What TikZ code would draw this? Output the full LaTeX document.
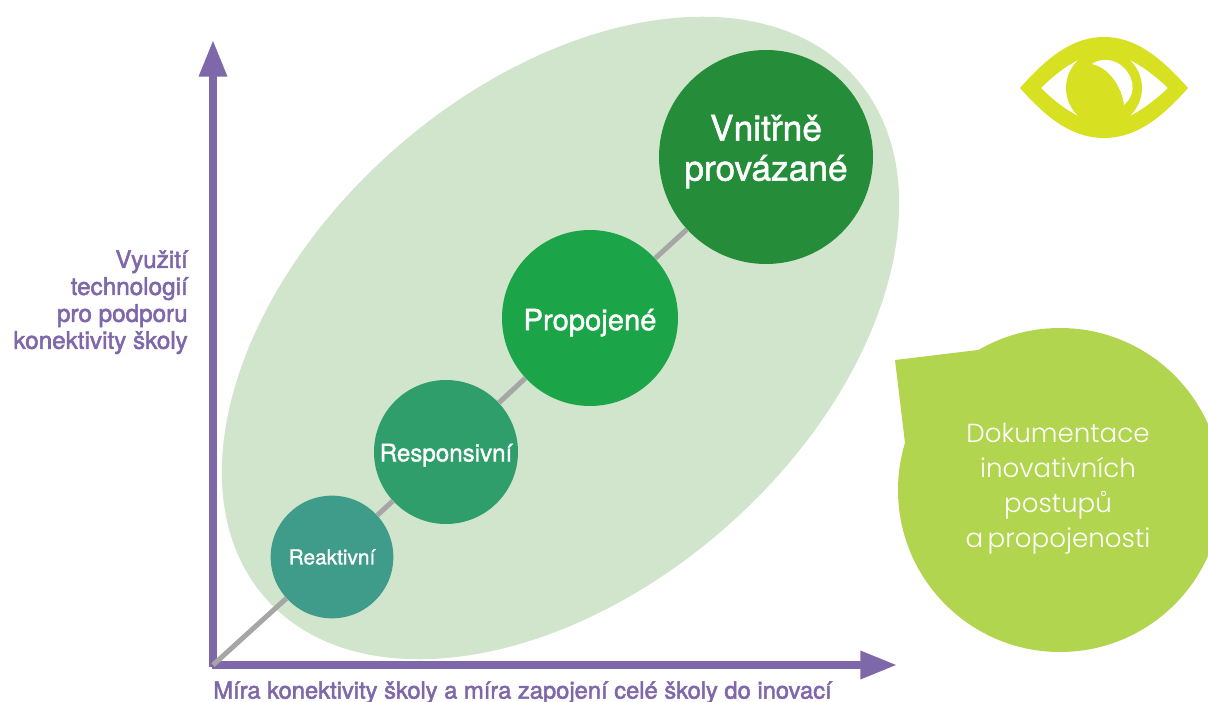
\documentclass[tikz,border=0pt]{standalone}
\usepackage{fontspec}
\usepackage{tikz}
\usetikzlibrary{
        arrows.meta,
        positioning,
        shapes.geometric
    }
\newfontfamily\labelfont[FakeBold=1.4]{TeX Gyre Heros}
\newfontfamily\axisfont[FakeBold=2.2]{TeX Gyre Heros}
\newfontfamily\callfont[UprightFont=* Light]{Poppins}
\definecolor{axiscol}{HTML}{7F68A9}
\definecolor{linecol}{HTML}{A6A6A6}
\definecolor{fieldcol}{HTML}{D0E5CB}
\definecolor{callcol}{HTML}{B2D54F}
\definecolor{eyecol}{HTML}{D7E021}
\definecolor{levelA}{HTML}{3F9B8A}
\definecolor{levelB}{HTML}{2F9E6A}
\definecolor{levelC}{HTML}{1BA548}
\definecolor{levelD}{HTML}{258D3A}
\tikzset{level/.style={circle,inner sep=0pt,align=center,text=white}}
\tikzset{axis/.style={draw=axiscol,line width=5.6pt,-{Triangle[width=20pt,length=27.5pt]}}}
\tikzset{axistext/.style={text=axiscol,inner sep=0pt}}

\begin{document}
\begin{tikzpicture}[x=0.75pt,y=-0.75pt]
                \useasboundingbox (0,0) rectangle (1208,702);
                \node[ellipse,fill=fieldcol,inner sep=0pt,minimum width=590pt,minimum height=377pt,rotate=41.4] (field) at (560.5,338) {};
                \coordinate (origin) at (213,665);
                \coordinate (ytip) at (213,40);
                \coordinate (xtip) at (897,665);
                \coordinate (ystart) at (213,667);
                \coordinate (xstart) at (212,665);
                \node[level,fill=levelD,minimum size=160.5pt,font=\labelfont\fontsize{26.5}{30}\selectfont] (vnitrne) at (766,157) {Vnitřně\\provázané\rule[-14pt]{0pt}{0pt}};
                \node[level,fill=levelC,minimum size=132pt,font=\labelfont\fontsize{21.9}{24}\selectfont] (propojene) at (590,318) {\rule{0pt}{23pt}Propojené};
                \node[level,fill=levelB,minimum size=108pt,font=\labelfont\fontsize{18.1}{20}\selectfont] (responsivni) at (446,452) {\rule{0pt}{18pt}Responsivní};
                \node[level,fill=levelA,minimum size=92pt,font=\labelfont\fontsize{15.6}{18}\selectfont] (reaktivni) at (332,557) {Reaktivní};
                \path[axis] (ystart) -- (ytip);
                \path[axis] (xstart) -- (xtip);
                \path[draw=linecol,line width=3.75pt]
                    (origin) -- (reaktivni)
                    (reaktivni) -- (responsivni)
                    (responsivni) -- (propojene)
                    (propojene) -- (vnitrne)
                    ;
                % speech bubble
                \node[circle,fill=callcol,inner sep=0pt,minimum size=243pt] (bubble) at (1060,490) {};
                \fill[callcol] (895,360) -- (978,350) -- (1000,420) -- (905,443) -- cycle;
                \node[inner sep=0pt,align=center,text=white,font=\callfont\fontsize{19.6}{26.25}\selectfont] (bubbletext) at (1058,489) {Dokumentace\\inovativních\\postupů\\a\hspace{-2pt} propojenosti};
                % eye
                \fill[eyecol,even odd rule] (1020,88) .. controls (1050,54) and (1075,37) .. (1104,37) .. controls (1133,37) and (1158,54) .. (1188,88) .. controls (1158,122) and (1133,138) .. (1104,138) .. controls (1075,138) and (1050,122) .. (1020,88) -- cycle
                    (1041,88) .. controls (1060,69) and (1082,54) .. (1104,53) .. controls (1126,54) and (1148,69) .. (1168,88) .. controls (1148,107) and (1126,122) .. (1104,123) .. controls (1082,122) and (1060,107) .. (1041,88) -- cycle;
                \node[circle,fill=eyecol,inner sep=0pt,minimum size=57pt] (iris) at (1104,88) {};
                \fill[white] (1092,64) .. controls (1100,58) and (1115,58) .. (1124,68) .. controls (1136,80) and (1135,96) .. (1124,105) .. controls (1122,88) and (1110,68) .. (1092,64) -- cycle;
                % axis labels
                \node[axistext,align=right,anchor=north east,font=\axisfont\fontsize{18.2}{20.2}\selectfont] (ylabel) at (188,250) {Využití\\technologií\\pro podporu\\konektivity školy};
                \node[axistext,anchor=north west,font=\axisfont\fontsize{17.8}{20.2}\selectfont] (xlabel) at (213,681) {Míra konektivity školy a míra zapojení celé školy do inovací};
            \end{tikzpicture}
\end{document}
